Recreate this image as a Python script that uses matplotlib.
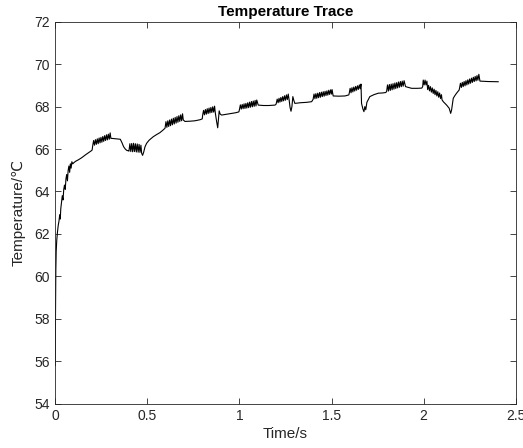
"""
Temperature trace, recreated from a MATLAB-style line plot.
"""

import matplotlib
matplotlib.use("Agg")
import matplotlib.pyplot as plt

plt.rcParams.update({
    'font.family': ['Liberation Sans', 'DejaVu Sans'],
    'font.size': 10,
})

# Trace, piece by piece (time in s, temperature in degC)
rise_t = [0.000, 0.001, 0.003, 0.005, 0.008, 0.012, 0.016, 0.020, 0.024, 0.027,
          0.030, 0.034, 0.038, 0.042, 0.046, 0.050, 0.054, 0.058, 0.062, 0.066,
          0.070, 0.074, 0.078, 0.082, 0.086, 0.090, 0.095, 0.100, 0.110, 0.127,
          0.145, 0.163, 0.180, 0.196, 0.200]
rise_T = [55.8, 58.0, 60.3, 61.2, 61.7, 62.1, 62.4, 62.6, 62.9, 62.7,
          63.2, 63.5, 63.8, 63.6, 64.1, 64.3, 64.1, 64.6, 64.8, 64.5,
          65.0, 65.2, 64.9, 65.3, 65.1, 65.4, 65.3, 65.35, 65.42, 65.5,
          65.6, 65.72, 65.82, 65.92, 65.95]

seg_b_t = [0.203, 0.208, 0.213, 0.218, 0.223, 0.228, 0.233, 0.238, 0.243, 0.248,
           0.253, 0.258, 0.263, 0.268, 0.273, 0.278, 0.283, 0.288, 0.293, 0.298,
           0.302, 0.308, 0.330, 0.353, 0.362, 0.371, 0.380, 0.389, 0.396]
seg_b_T = [66.14, 66.40, 66.18, 66.44, 66.22, 66.48, 66.25, 66.52, 66.29, 66.55,
           66.32, 66.59, 66.36, 66.63, 66.40, 66.67, 66.43, 66.70, 66.46, 66.76,
           66.50, 66.50, 66.48, 66.46, 66.30, 66.11, 66.00, 65.93, 65.92]

seg_c_t = [0.400, 0.405, 0.410, 0.415, 0.420, 0.425, 0.430, 0.435, 0.440, 0.445,
           0.450, 0.455, 0.460, 0.465, 0.469, 0.474, 0.480, 0.487, 0.496, 0.510,
           0.532, 0.550, 0.568, 0.586]
seg_c_T = [65.90, 66.25, 65.88, 66.26, 65.87, 66.27, 65.88, 66.25, 65.86, 66.24,
           65.85, 66.22, 65.84, 66.18, 65.80, 65.70, 65.85, 66.10, 66.27, 66.42,
           66.58, 66.68, 66.77, 66.90]

seg_d_t = [0.596, 0.601, 0.606, 0.611, 0.616, 0.621, 0.626, 0.631, 0.636, 0.641,
           0.646, 0.651, 0.656, 0.661, 0.666, 0.671, 0.676, 0.681, 0.686, 0.691,
           0.695, 0.704, 0.730, 0.758, 0.786, 0.798]
seg_d_T = [66.98, 67.29, 67.02, 67.33, 67.06, 67.37, 67.10, 67.41, 67.14, 67.45,
           67.18, 67.49, 67.22, 67.53, 67.26, 67.57, 67.30, 67.61, 67.33, 67.66,
           67.37, 67.30, 67.31, 67.33, 67.38, 67.42]

seg_e_t = [0.800, 0.805, 0.810, 0.815, 0.820, 0.825, 0.830, 0.835, 0.840, 0.845,
           0.850, 0.855, 0.860, 0.865, 0.869, 0.876, 0.882, 0.886, 0.890, 0.895,
           0.903, 0.930, 0.958, 0.980, 0.997]
seg_e_T = [67.58, 67.82, 67.61, 67.86, 67.64, 67.90, 67.67, 67.93, 67.70, 67.96,
           67.72, 67.99, 67.74, 68.02, 67.70, 67.30, 67.00, 67.40, 67.80, 67.65,
           67.60, 67.64, 67.68, 67.71, 67.75]

seg_f_t = [1.000, 1.005, 1.010, 1.015, 1.020, 1.025, 1.030, 1.035, 1.040, 1.045,
           1.050, 1.055, 1.060, 1.065, 1.070, 1.075, 1.080, 1.085, 1.090, 1.094,
           1.102, 1.130, 1.160, 1.193, 1.198]
seg_f_T = [67.86, 68.08, 67.88, 68.10, 67.90, 68.13, 67.91, 68.15, 67.93, 68.18,
           67.95, 68.21, 67.97, 68.24, 67.99, 68.26, 68.01, 68.29, 68.03, 68.31,
           68.07, 68.05, 68.05, 68.07, 68.10]

seg_g_t = [1.200, 1.205, 1.210, 1.215, 1.220, 1.225, 1.230, 1.235, 1.240, 1.245,
           1.250, 1.255, 1.260, 1.265, 1.270, 1.275, 1.280, 1.285, 1.290, 1.295,
           1.301, 1.330, 1.365, 1.392, 1.397]
seg_g_T = [68.15, 68.35, 68.18, 68.39, 68.21, 68.43, 68.24, 68.47, 68.27, 68.51,
           68.30, 68.55, 68.33, 68.59, 68.30, 67.95, 67.78, 68.00, 68.47, 68.30,
           68.15, 68.18, 68.20, 68.23, 68.30]

seg_h_t = [1.400, 1.405, 1.410, 1.415, 1.420, 1.425, 1.430, 1.435, 1.440, 1.445,
           1.450, 1.455, 1.460, 1.465, 1.470, 1.475, 1.480, 1.485, 1.490, 1.495,
           1.500, 1.503, 1.509, 1.540, 1.573, 1.594]
seg_h_T = [68.34, 68.59, 68.37, 68.61, 68.39, 68.63, 68.42, 68.66, 68.44, 68.68,
           68.47, 68.70, 68.49, 68.72, 68.52, 68.74, 68.54, 68.77, 68.57, 68.79,
           68.59, 68.80, 68.50, 68.49, 68.50, 68.55]

seg_i_t = [1.596, 1.601, 1.606, 1.611, 1.616, 1.621, 1.626, 1.631, 1.636, 1.641,
           1.646, 1.651, 1.656, 1.660, 1.663, 1.670, 1.676, 1.681, 1.686, 1.692,
           1.708, 1.730, 1.754, 1.775, 1.793]
seg_i_T = [68.62, 68.86, 68.65, 68.89, 68.69, 68.92, 68.73, 68.95, 68.77, 68.98,
           68.81, 69.02, 68.84, 69.06, 68.15, 67.90, 67.76, 68.00, 67.85, 68.20,
           68.47, 68.56, 68.63, 68.64, 68.66]

seg_j_t = [1.799, 1.804, 1.809, 1.814, 1.819, 1.824, 1.829, 1.834, 1.839, 1.844,
           1.849, 1.854, 1.859, 1.864, 1.869, 1.874, 1.879, 1.884, 1.889, 1.894,
           1.902, 1.935, 1.965, 1.990, 1.995]
seg_j_T = [68.70, 69.02, 68.73, 69.04, 68.76, 69.06, 68.79, 69.08, 68.82, 69.11,
           68.85, 69.13, 68.88, 69.16, 68.91, 69.18, 68.94, 69.20, 68.96, 69.22,
           68.94, 68.86, 68.86, 68.87, 68.94]

seg_k_t = [1.998, 2.003, 2.008, 2.013, 2.018, 2.022, 2.027, 2.032, 2.037, 2.042,
           2.047, 2.052, 2.057, 2.062, 2.067, 2.072, 2.077, 2.082, 2.087, 2.092,
           2.097, 2.100, 2.107, 2.125, 2.139, 2.147, 2.152, 2.161, 2.170, 2.179,
           2.193]
seg_k_T = [69.25, 69.02, 69.25, 69.02, 69.20, 68.80, 69.00, 68.74, 68.94, 68.68,
           68.88, 68.62, 68.82, 68.56, 68.76, 68.50, 68.70, 68.44, 68.64, 68.38,
           68.56, 68.32, 68.23, 68.07, 67.92, 67.68, 67.84, 68.39, 68.52, 68.63,
           68.78]

seg_l_t = [2.195, 2.200, 2.205, 2.210, 2.215, 2.220, 2.225, 2.230, 2.235, 2.240,
           2.245, 2.250, 2.255, 2.260, 2.265, 2.270, 2.275, 2.280, 2.285, 2.290,
           2.295, 2.300, 2.306, 2.350, 2.405]
seg_l_T = [68.86, 69.10, 68.90, 69.14, 68.94, 69.18, 68.98, 69.22, 69.02, 69.26,
           69.06, 69.30, 69.10, 69.34, 69.14, 69.38, 69.18, 69.42, 69.21, 69.46,
           69.24, 69.52, 69.20, 69.18, 69.17]

time_s = (rise_t + seg_b_t + seg_c_t + seg_d_t + seg_e_t + seg_f_t
          + seg_g_t + seg_h_t + seg_i_t + seg_j_t + seg_k_t + seg_l_t)
temp_c = (rise_T + seg_b_T + seg_c_T + seg_d_T + seg_e_T + seg_f_T
          + seg_g_T + seg_h_T + seg_i_T + seg_j_T + seg_k_T + seg_l_T)

x_ticks = [0, 0.5, 1, 1.5, 2, 2.5]
x_tick_labels = ['0', '0.5', '1', '1.5', '2', '2.5']
y_ticks = [54, 56, 58, 60, 62, 64, 66, 68, 70, 72]

axis_grey = '#262626'

fig = plt.figure(figsize=(5.23, 4.48), dpi=100)
ax = fig.add_axes([0.1057, 0.0989, 0.8803, 0.8527])

ax.plot(time_s, temp_c, color='black', linewidth=0.8)

ax.set_xlim(0, 2.5)
ax.set_ylim(54, 72)
ax.set_xticks(x_ticks)
ax.set_xticklabels(x_tick_labels)
ax.set_yticks(y_ticks)

ax.tick_params(direction='in', top=True, right=True, length=4, width=0.6,
               colors=axis_grey, labelsize=10, pad=4)
for spine in ax.spines.values():
    spine.set_color(axis_grey)
    spine.set_linewidth(0.6)

ax.set_title('Temperature Trace', fontsize=11, fontweight='bold', pad=4)
ax.set_xlabel('Time/s', fontsize=11, color=axis_grey, labelpad=3)
ax.set_ylabel('Temperature/℃', fontsize=11, color=axis_grey, labelpad=6)

fig.savefig('out.png', dpi=100)
plt.close(fig)
